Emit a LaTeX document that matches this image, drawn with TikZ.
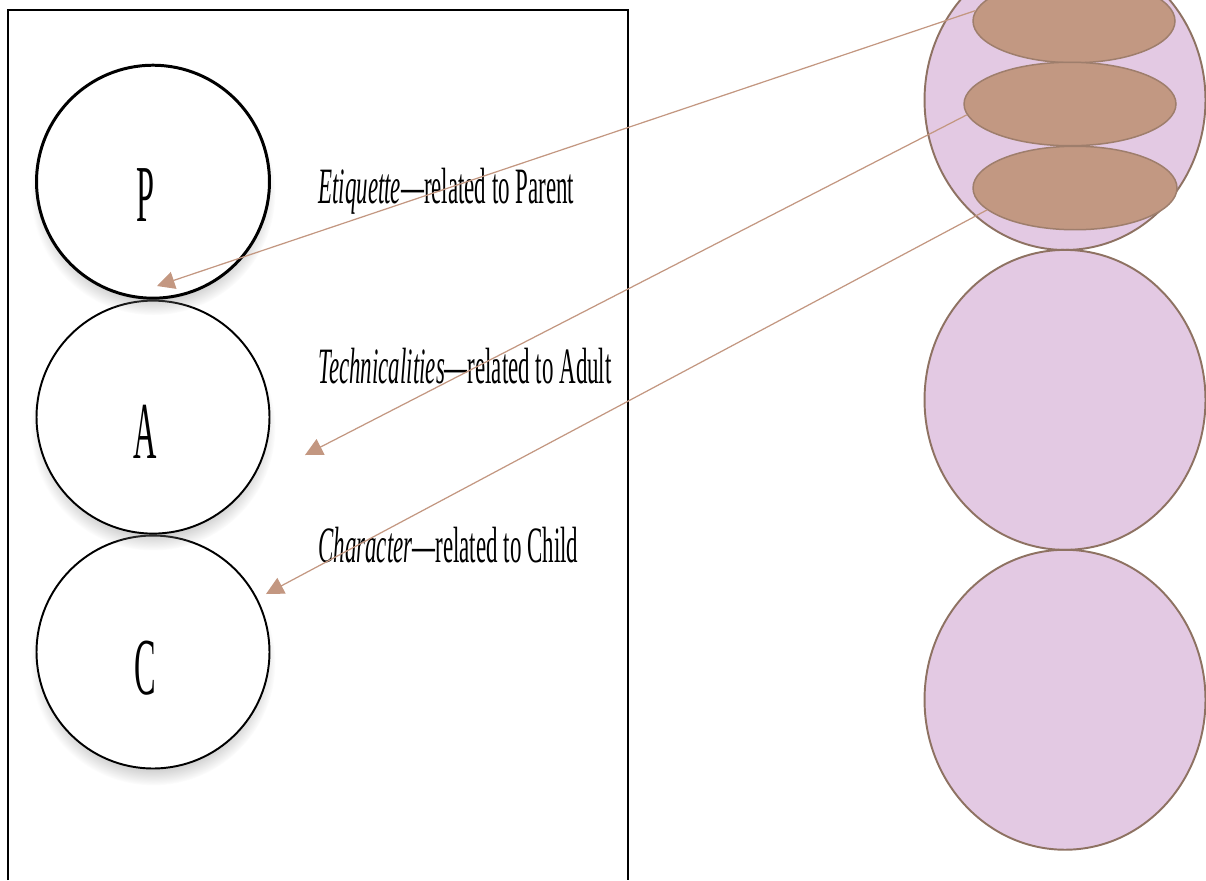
\documentclass[tikz,border=0pt]{standalone}
\usepackage{fontspec}
\setmainfont{Liberation Serif}
\usepackage{graphicx}
\usetikzlibrary{shapes.geometric, arrows.meta, shadows, positioning}

\definecolor{lila}{HTML}{E3C9E3}
\definecolor{braun}{HTML}{C29882}
\definecolor{rand}{HTML}{8E7262}
\definecolor{randhell}{HTML}{9E7E6C}
\definecolor{pfeil}{HTML}{C39781}

\newcommand{\schmal}[1]{\scalebox{0.45}[1]{#1}}
\newcommand{\eng}[1]{\scalebox{0.40}[1]{#1}}

\tikzset{
    ego/.style = {circle, draw = black, fill = white, line width = 1.1pt,
        minimum size = 4.66cm, inner sep = 0pt,
        circular drop shadow = {shadow xshift = 0pt, shadow yshift = -6pt,
            shadow scale = 1.05, opacity = 0.4}},
    buchstabe/.style = {inner sep = 0pt, font = \fontsize{46}{46}\selectfont},
    erklaerung/.style = {anchor = base west, inner sep = 0pt,
        font = \fontsize{29}{30}\selectfont},
    kreis/.style = {ellipse, draw = rand, fill = lila, line width = 1.1pt,
        minimum width = 5.62cm, minimum height = 6.0cm, inner sep = 0pt},
    schicht/.style = {ellipse, draw = randhell, fill = braun, line width = 0.85pt,
        minimum height = 1.67cm, inner sep = 0pt},
    verweis/.style = {draw = pfeil, line width = 0.7pt,
        -{Triangle[length = 10pt, width = 10pt]}}
}

\begin{document}
\begin{tikzpicture}[x = 0.02cm, y = -0.02cm]
    \useasboundingbox (0, 0) rectangle (1206, 880);

    % Rahmen links
    \draw [line width = 1.4pt] (8, 880) -- (8, 10) -- (628, 10) -- (628, 880);

    % Ich-Zustaende
    \node [ego] (c) at (153, 652) {};
    \node [ego, above = 0pt of c] (a) {};
    \node [ego, above = 0pt of a, line width = 1.7pt] (p) {};

    \node [buchstabe] (lp) at (145, 195) {\eng{P}};
    \node [buchstabe] (la) at (145, 432) {\eng{A}};
    \node [buchstabe] (lc) at (145, 668) {\eng{C}};

    \node [erklaerung] (tp) at (318, 203) {\schmal{\textit{Etiquette}---related to Parent}};
    \node [erklaerung] (ta) at (318, 383) {\schmal{\textit{Technicalities}---related to Adult}};
    \node [erklaerung] (tc) at (318, 562) {\schmal{\textit{Character}---related to Child}};

    % Kreise rechts
    \node [kreis] (k1) at (1065, 100) {};
    \node [kreis, below = 2 of k1] (k2) {};
    \node [kreis, below = 2 of k2] (k3) {};

    \node [schicht, minimum width = 4.04cm] (e1) at (1074, 21) {};
    \node [schicht, minimum width = 4.24cm] (e2) at (1070, 104) {};
    \node [schicht, minimum width = 4.08cm] (e3) at (1075, 188) {};

    % Pfeile
    \coordinate (zp) at (157, 286);
    \coordinate (za) at (305, 455);
    \coordinate (zc) at (266, 594);

    \draw [verweis] (e1.174) -- (zp);
    \draw [verweis] (e2.186) -- (za);
    \draw [verweis] (e3.194) -- (zc);
\end{tikzpicture}
\end{document}
